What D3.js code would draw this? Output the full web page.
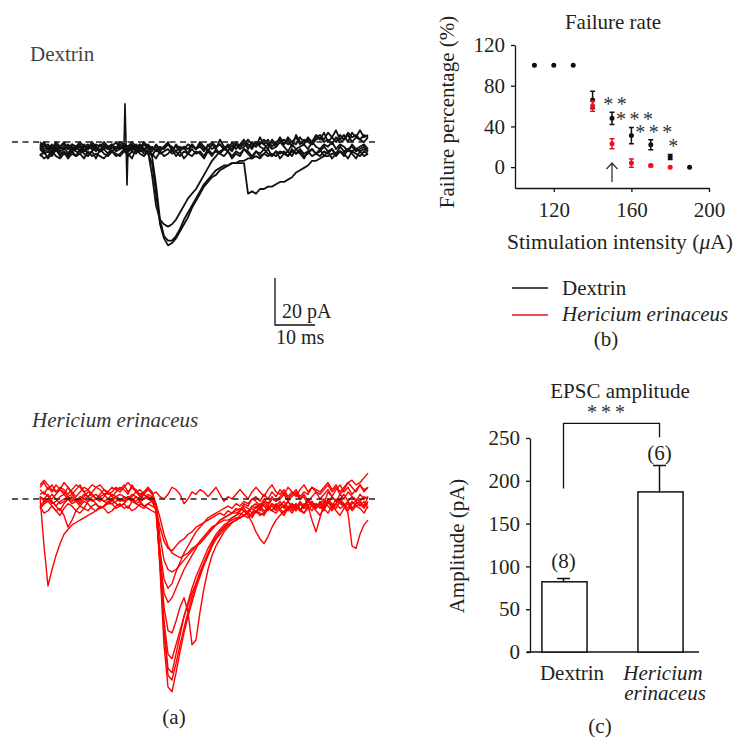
<!DOCTYPE html>
<html><head><meta charset="utf-8">
<script src="https://cdn.jsdelivr.net/npm/d3@7"></script>
<style>
body{margin:0;background:#fff}
svg{display:block}
text{font-family:"Liberation Serif","Times New Roman",serif;fill:#231f20}
</style>
</head><body>
<svg id="fig" width="750" height="750"></svg>
<script>
// ---------------- DATA ----------------
// (a) sample traces, one value per ms (pA, 0 = dashed baseline)
const traceTimes = d3.range(0, 83);
const dextrinTraces = [
 [-1,-3,-2,-4,-1,-3,-2,-5,-2,-3, -1,-4,-2,-3,-2,-4,-1,-3,-2,-3, -1,-2,-3,-1,-3,-2,-4,-1,-3,-2, -4,-2,-1,-3,-2,-4,-2,-3,-1,-3, -2,-4,-1,-3,-2,-1,-3,-2,-4,-1, -3,-2,-1,-3,0,-2,-3,-1,-3,-2, 0,-2,-4,-1,-3,-2,-1,-3,0,-2, -3,-1,-2,0,-3,-1,-2,-4,-1,-3, -2,-1,-3],
 [-3,-5,-4,-6,-3,-5,-4,-6,-3,-4, -5,-3,-5,-4,-2,-4,-3,-5,-2,-4, -3,-1,-4,-2,-4,-3,-1,-3,-2,-4, -2,-3,-1,-2,-4,-2,-3,-1,-2,-3, -1,-3,-2,0,-2,-1,-3,-1,-2,0, -2,-1,1,-1,-2,0,-1,1,-2,0, 1,-1,2,0,-1,2,0,1,-1,2, 3,1,4,2,0,3,1,4,2,3, 1,3,2],
 [-5,-7,-6,-4,-6,-7,-5,-6,-4,-6, -5,-7,-4,-6,-5,-6,-7,-5,-4,-6, -5,-3,-6,-4,-5,-3,-5,-4,-6,-3, -5,-4,-3,-5,-4,-6,-4,-5,-3,-5, -4,-6,-3,-5,-4,-5,-3,-4,-6,-4, -5,-3,-4,-6,-4,-5,-3,-5,-6,-4, -5,-4,-6,-3,-5,-4,-6,-5,-3,-5, -6,-4,-5,-3,-6,-4,-5,-7,-4,-5, -6,-4,-5],
 [-2,0,-3,-1,-4,-2,0,-3,-1,-2, -4,-1,-3,0,-2,-4,-1,-3,-2,0, -3,-1,-2,-4,-1,-3,0,-2,-4,-1, -3,-2,0,-4,-1,-3,-2,-5,-1,-3, 0,-2,-4,-1,-3,1,-2,-4,0,-3, -1,1,-3,0,-2,2,-1,-3,1,-1, 2,-1,1,-2,3,0,-1,2,0,3, 1,4,0,2,5,1,3,0,4,2, 5,2,3],
 [-6,-4,-7,-5,-3,-6,-4,-7,-5,-6, -3,-5,-6,-4,-7,-3,-5,-6,-4,-5, -6,-4,-5,-7,-3,-5,-6,-4,-5,-7, -4,-6,-5,-3,-6,-4,-7,-5,-6,-4, -5,-7,-4,-6,-3,-5,-6,-4,-7,-5, -6,-3,-5,-7,-4,-6,-5,-3,-6,-4, -7,-5,-4,-6,-3,-5,-7,-4,-6,-5, -3,-6,-4,-7,-5,-4,-6,-3,-5,-7, -4,-6,-5],
 [-2,-4,-3,-5,-2,-4,-3,-2,-4,-3, -2,-4,-3,-1,-3,-4,-2,-3,-1,-3, -2,-3,-4,-2,-3,-1,-3,-5,-9,-22, -35,-41,-44,-43,-41,-38,-35,-32,-28,-25, -22,-19,-17,-15,-14,-12,-11,-10,-9,-9, -8,-8,-7,-7,-6,-7,-5,-6,-5,-6, -4,-5,-6,-4,-5,-3,-5,-4,-3,-5, -4,-2,-4,-3,-5,-2,-4,-3,-2,-4, -3,-2,-4],
 [0,-2,-1,-3,0,-2,-1,-3,-1,-2, 0,-2,-1,-3,-1,-2,0,-2,-1,-3, 0,-1,-2,0,-2,-1,-3,-4,-14,-27, -33,-35,-36,-35,-33,-30,-27,-24,-22,-20, -17,-14,-11,-8,-6,-4,-3,-2,-3,-1, -2,0,-1,-2,0,-1,1,-1,0,-2, 0,1,-1,0,2,-1,1,0,-1,1, 2,0,1,-1,2,0,1,3,0,2, 1,0,2],
 [-3,-1,-3,-2,-4,-2,-3,-1,-3,-2, -4,-2,-3,-2,-4,-1,-3,-2,-4,-2, -3,-2,-4,-3,-2,-4,-3,-2,-6,-18, -33,-40,-42,-42,-40,-37,-33,-30,-27,-24, -21,-18,-16,-14,-12,-11,-10,-10,-9,-9, -9,-9,-22,-21,-22,-20,-20,-19,-19,-18, -17,-17,-16,-15,-13,-12,-11,-10,-8,-8, -7,-6,-6,-5,-5,-4,-5,-3,-4,-3, -4,-3,-4]
];
const artifactTimes = [21.0, 21.25, 21.5, 21.75, 22.0];
const artifactValues = [-2, 16.5, 0, -18.5, -3];
const hericiumTraces = [
 [5,7,4,6,3,4,7,5,2,4, 6,3,1,3,5,6,4,2,3,5, 4,6,3,5,4,2,3,5,3,-2, -30,-62,-80,-82,-74,-65,-57,-50,-44,-38, -33,-28,-24,-20,-17,-15,-13,-11,-10,-9, -7,-5,-6,-3,-2,-4,-1,-3,0,-1, 1,3,0,2,4,1,3,2,5,3, 2,4,6,3,5,2,4,7,5,3, 6,4,5],
 [-4,-2,0,-1,-3,-5,-2,0,1,-1, -3,-4,-1,0,-2,-4,-3,-1,0,-2, -3,-2,0,-1,1,-1,-3,-2,-1,-3, -25,-55,-75,-77,-70,-62,-55,-48,-42,-36, -31,-27,-23,-19,-16,-14,-12,-10,-9,-8, -8,-7,-6,-8,-5,-6,-7,-4,-5,-6, -4,-6,-3,-5,-2,-4,-6,-3,-5,-2, -3,-5,-1,-4,-2,0,-3,-1,-4,-2, -1,-3,1],
 [6,8,6,4,3,5,4,2,4,6, 5,3,4,6,5,4,2,3,5,4, 3,5,7,5,3,4,2,4,3,-3, -28,-56,-72,-74,-66,-58,-50,-44,-38,-33, -29,-25,-21,-18,-15,-13,-11,-10,-8,-7, -5,-2,-3,0,1,-1,2,0,3,1, 4,2,5,3,1,4,6,3,5,4, 3,5,7,4,6,3,5,7,8,6, 7,9,11],
 [-3,-6,-5,-3,-5,-7,-4,-2,-3,-5, -3,-1,-2,-4,-5,-3,-4,-6,-5,-3, -2,-4,-3,-5,-4,-2,-3,-4,-5,-6, -26,-52,-66,-68,-62,-56,-50,-45,-40,-36, -32,-28,-24,-20,-17,-14,-12,-11,-10,-9, -8,-7,-8,-6,-5,-7,-6,-4,-5,-3, -5,-7,-4,-6,-3,-5,-6,-4,-3,-5, -7,-4,-6,-3,-5,-7,-4,-2,-5,-3, -4,-6,-3],
 [1,0,2,-1,-3,-1,0,1,-1,0, -2,0,1,2,0,-1,1,3,1,0, -1,1,0,2,1,-1,0,1,-1,-5, -25,-40,-44,-42,-38,-34,-30,-27,-24,-21, -18,-16,-14,-12,-11,-10,-9,-9,-8,-7, -6,-7,-5,-4,-6,-3,-5,-4,-2,-3, -1,-3,-5,-2,-4,-1,-3,0,-2,-4, -1,-3,0,-2,-4,-1,-3,-5,-2,-1, -3,-1,-4],
 [-3,-1,0,-2,-1,1,2,0,-2,-1, 1,0,-1,1,2,0,-1,-2,0,1, 0,-1,1,0,-2,-1,0,2,1,-3, -16,-26,-30,-31,-30,-28,-26,-24,-22,-20, -18,-16,-14,-12,-11,-9,-8,-7,-6,-6, -5,-4,-6,-3,-4,-2,-3,-5,-2,-4, -3,-1,-4,-2,-3,-5,-2,-3,-1,-4, -2,-4,-1,-3,-2,0,-2,-4,-1,-3, -2,-4,-1],
 [2,3,1,0,2,4,3,1,2,0, -1,1,3,2,0,1,2,0,-1,1, 2,1,0,1,3,2,0,1,0,-2, -8,-15,-20,-23,-24,-25,-24,-23,-21,-20, -19,-17,-15,-13,-11,-9,-8,-7,-6,-5, -4,-5,-7,-10,-14,-17,-19,-16,-12,-9, -7,-5,-4,-3,-5,-2,-4,-3,-1,-3, -2,0,-2,1,-1,0,2,-1,1,0, -1,1,0],
 [1,-1,0,2,0,-2,-1,1,0,-1, 0,2,1,-1,0,1,-1,0,2,1, -1,0,1,-1,1,0,2,0,-1,-3, -24,-46,-56,-57,-52,-46,-42,-48,-62,-60, -48,-38,-30,-24,-20,-17,-14,-12,-10,-9, -8,-7,-6,-7,-5,-4,-6,-3,-5,-2, -4,-3,-1,-4,-2,-5,-3,-1,-3,-4, -2,-4,-1,-3,0,-2,-3,-1,-4,-2, -1,-3,-2],
 [4,2,5,3,6,4,2,5,3,1, 3,5,4,2,0,2,4,3,1,3, 5,4,2,6,3,1,3,4,2,3, 1,0,2,5,4,2,-2,0,3,2, 4,3,1,3,5,2,-1,1,0,2, 4,2,0,3,5,3,1,4,6,3, 2,4,1,3,2,0,1,-3,-9,-14, -8,-2,3,1,4,6,3,5,2,4, 6,3,5],
 [1,-20,-37,-30,-24,-19,-15,-13,-11,-10, -9,-8,-7,-6,-5,-4,-3,-2,-2,-1, 0,-1,1,0,-1,1,2,0,1,-3, -22,-34,-38,-36,-31,-27,-23,-20,-17,-14, -12,-10,-8,-7,-6,-5,-4,-3,-4,-2, -3,-1,-2,0,-1,-3,0,-2,1,-1, 0,2,-1,1,3,0,2,-1,1,3, 0,2,4,1,-1,2,0,3,1,-1, 2,0,1],
 [-4,-2,-1,-3,-5,-4,-7,-12,-9,-5, -6,-4,-5,-3,-2,-4,-3,-1,-2,-4, -3,-2,-4,-1,-2,-3,-4,-2,-3,-4, -12,-18,-21,-22,-20,-18,-17,-15,-14,-12, -11,-10,-9,-8,-7,-6,-7,-5,-6,-4, -5,-3,-4,-6,-3,-5,-2,-4,-3,-5, -2,-4,-1,-3,-5,-2,-4,-1,-3,-2, -4,-1,-3,-5,-2,-4,-3,-6,-20,-21, -15,-11,-9]
];
const scaleBarPA = 20, scaleBarMs = 10;

// (b) failure rate
const dexIntensity = [110,120,130,140,150,160,170,180,190];
const dexFailure   = [100,100,100,66,48,31,22,10,0];
const dexFailureErr= [0,0,0,8.5,6,8,5,2.5,0];
const herIntensity = [140,150,160,170,180];
const herFailure   = [60,23,4,1.5,0];
const herFailureErr= [5,5,4,1,0];
const sigIntensity = [150,160,170,180];
const sigLabels    = ["**","***","***","*"];
const arrowIntensity = 150;
const failureTicksX = [120,160,200];
const failureTicksY = [0,40,80,120];

// (c) EPSC amplitude
const groups   = ["Dextrin","Hericium erinaceus"];
const ampMean  = [82,187];
const ampSem   = [4,31];
const ampN     = ["(8)","(6)"];
const ampTicks = [0,50,100,150,200,250];

// ---------------- DRAW ----------------
const svg = d3.select("#fig");
const FS = 21;
const SERIF = '"Liberation Serif","Times New Roman",serif';

// ---- panel (a)
const xT = d3.scaleLinear().domain([0,82]).range([40,368]);
const yA1 = d3.scaleLinear().domain([0,-20]).range([142,189]);
const yA2 = d3.scaleLinear().domain([0,-20]).range([499,546]);

function tracePanel(traces, yS, color, width){
  const line = d3.line().x((d,i)=>xT(traceTimes[i])).y(d=>yS(d));
  svg.append("g").selectAll("path").data(traces).join("path")
    .attr("d", line).attr("fill","none").attr("stroke",color)
    .attr("stroke-width",width).attr("stroke-linejoin","round");
}
tracePanel(dextrinTraces, yA1, "#111", 1.8);
svg.append("path")
  .attr("d", d3.line().x((d,i)=>xT(artifactTimes[i])).y(d=>yA1(d))(artifactValues))
  .attr("fill","none").attr("stroke","#111").attr("stroke-width",1.6);
tracePanel(hericiumTraces, yA2, "#f00", 1.4);

[yA1, yA2].forEach(yS=>{
  svg.append("line").attr("x1",12).attr("x2",378).attr("y1",yS(0)).attr("y2",yS(0))
    .attr("stroke","#222").attr("stroke-width",1.3).attr("stroke-dasharray","6,4.5");
});

svg.append("text").attr("x",30).attr("y",61).attr("font-size",FS).style("fill","#444").text("Dextrin");
svg.append("text").attr("x",32).attr("y",427).attr("font-size",FS).attr("font-style","italic").style("fill","#333").text("Hericium erinaceus");

// scale bar
const sbX = 275, sbY = 325;
const sbH = yA1(-scaleBarPA) - yA1(0), sbW = xT(scaleBarMs) - xT(0);
svg.append("path").attr("d",`M${sbX},${sbY-sbH}V${sbY}H${sbX+sbW}`)
  .attr("fill","none").attr("stroke","#111").attr("stroke-width",1.3);
svg.append("text").attr("x",282).attr("y",318).attr("font-size",FS-1).text(scaleBarPA+" pA");
svg.append("text").attr("x",276).attr("y",344).attr("font-size",FS-1).text(scaleBarMs+" ms");
svg.append("text").attr("x",174).attr("y",724).attr("font-size",FS).attr("text-anchor","middle").text("(a)");

// ---- panel (b)
const xF = d3.scaleLinear().domain([100,200]).range([515,709]);
const yF = d3.scaleLinear().domain([-20.5,120]).range([188,45]);
function styleAxis(g){
  g.attr("font-family", SERIF);
  g.selectAll("path,line").attr("stroke","#111").attr("stroke-width",1.3);
  g.selectAll("text").attr("font-size",FS).style("font-family",SERIF).style("fill","#231f20");
}
svg.append("g").attr("transform",`translate(${xF.range()[0]},0)`)
  .call(d3.axisLeft(yF).tickValues(failureTicksY).tickSize(4).tickSizeOuter(0).tickPadding(6))
  .call(styleAxis);
svg.append("g").attr("transform",`translate(0,${yF.range()[0]})`)
  .call(d3.axisBottom(xF).tickValues(failureTicksX).tickSize(4).tickSizeOuter(0).tickPadding(10))
  .call(styleAxis);

function errorDots(xs, ms, es, color){
  const g = svg.append("g");
  xs.forEach((x,i)=>{
    if(es[i]>0){
      const cx = xF(x), y1 = yF(ms[i]+es[i]), y2 = yF(ms[i]-es[i]);
      g.append("path").attr("d",`M${cx},${y1}V${y2}M${cx-2.5},${y1}H${cx+2.5}M${cx-2.5},${y2}H${cx+2.5}`)
        .attr("stroke",color).attr("stroke-width",1.5).attr("fill","none");
    }
    g.append("circle").attr("cx",xF(x)).attr("cy",yF(ms[i])).attr("r",2.5).attr("fill",color);
  });
}
errorDots(dexIntensity, dexFailure, dexFailureErr, "#111");
errorDots(herIntensity, herFailure, herFailureErr, "#e8141c");

// significance stars
sigIntensity.forEach((v,k)=>{
  const i = dexIntensity.indexOf(v);
  const cy = yF(dexFailure[i]+dexFailureErr[i]) - 8;
  const n = sigLabels[k].length, cx0 = xF(v) + 3 - (n-1)*13.5/2;
  for(let j=0;j<n;j++){
    const t = svg.append("text").attr("x",cx0+j*13.5).attr("y",cy+10).attr("text-anchor","middle")
      .attr("font-size",20).style("fill","#333").text("*");
    const b = t.node().getBBox();
    t.attr("y", cy+10 + (cy - (b.y+b.height/2)));
  }
});
// arrow
const ax = xF(arrowIntensity);
svg.append("path").attr("d",`M${ax},182V163M${ax-5.5},169L${ax},163L${ax+5.5},169`)
  .attr("fill","none").attr("stroke","#333").attr("stroke-width",1.3);

svg.append("text").attr("x",613).attr("y",29).attr("text-anchor","middle").attr("font-size",FS).text("Failure rate");
svg.append("text").attr("transform","translate(454,112) rotate(-90)").attr("text-anchor","middle")
  .attr("font-size",FS).text("Failure percentage (%)");
const xl = svg.append("text").attr("x",620).attr("y",249).attr("text-anchor","middle").attr("font-size",FS+0.5);
xl.append("tspan").text("Stimulation intensity (");
xl.append("tspan").attr("font-style","italic").text("\u03BC");
xl.append("tspan").text("A)");

// legend
svg.append("line").attr("x1",512).attr("x2",548).attr("y1",288).attr("y2",288).attr("stroke","#111").attr("stroke-width",1.3);
svg.append("line").attr("x1",512).attr("x2",548).attr("y1",315).attr("y2",315).attr("stroke","#e8141c").attr("stroke-width",1.3);
svg.append("text").attr("x",562).attr("y",295).attr("font-size",FS).text(groups[0]);
svg.append("text").attr("x",562).attr("y",321).attr("font-size",FS).attr("font-style","italic").text(groups[1]);
svg.append("text").attr("x",606).attr("y",346).attr("text-anchor","middle").attr("font-size",FS).text("(b)");

// ---- panel (c)
const xC = d3.scaleBand().domain(groups).range([516,709]).paddingInner(0.53).paddingOuter(0.27);
const yC = d3.scaleLinear().domain([0,250]).range([652,438]);
svg.append("g").attr("transform","translate(530,0)")
  .call(d3.axisLeft(yC).tickValues(ampTicks).tickSize(4).tickSizeOuter(0).tickPadding(6))
  .call(styleAxis);
svg.append("line").attr("x1",527).attr("x2",699).attr("y1",652).attr("y2",652).attr("stroke","#111").attr("stroke-width",1.3);

svg.append("g").selectAll("rect").data(groups).join("rect")
  .attr("x",d=>xC(d)).attr("width",xC.bandwidth())
  .attr("y",(d,i)=>yC(ampMean[i])).attr("height",(d,i)=>yC(0)-yC(ampMean[i]))
  .attr("fill","#fff").attr("stroke","#111").attr("stroke-width",1.5);
groups.forEach((g,i)=>{
  const cx = xC(g)+xC.bandwidth()/2 - 1, yt = yC(ampMean[i]+ampSem[i]);
  svg.append("path").attr("d",`M${cx},${yC(ampMean[i])}V${yt}M${cx-6.5},${yt}H${cx+6.5}`)
    .attr("stroke","#111").attr("stroke-width",1.5).attr("fill","none");
  svg.append("text").attr("x",cx).attr("y",yt-(i===0?10:5)).attr("text-anchor","middle").attr("font-size",FS).text(ampN[i]);
});
// bracket
const bl = xC(groups[0])+xC.bandwidth()/2 - 1, br = xC(groups[1])+xC.bandwidth()/2 - 1;
svg.append("path").attr("d",`M${bl},${yC(191)}V${yC(267)}H${br}V${yC(251)}`)
  .attr("fill","none").attr("stroke","#111").attr("stroke-width",1.3);
[-14,0,14].forEach(dx=>{
  const t = svg.append("text").attr("x",606+dx).attr("y",420).attr("text-anchor","middle").attr("font-size",20).style("fill","#333").text("*");
  const b = t.node().getBBox();
  t.attr("y", 420 + (412 - (b.y+b.height/2)));
});
svg.append("text").attr("x",620).attr("y",398).attr("text-anchor","middle").attr("font-size",FS).text("EPSC amplitude");
svg.append("text").attr("transform","translate(464,546) rotate(-90)").attr("text-anchor","middle")
  .attr("font-size",FS).text("Amplitude (pA)");
svg.append("text").attr("x",572).attr("y",680).attr("text-anchor","middle").attr("font-size",FS).text(groups[0]);
const her = groups[1].split(" ");
svg.append("text").attr("x",663).attr("y",680).attr("text-anchor","middle").attr("font-size",FS).attr("font-style","italic").text(her[0]);
svg.append("text").attr("x",665).attr("y",700).attr("text-anchor","middle").attr("font-size",FS).attr("font-style","italic").text(her[1]);
svg.append("text").attr("x",600).attr("y",733).attr("text-anchor","middle").attr("font-size",FS).text("(c)");
</script>
</body></html>
